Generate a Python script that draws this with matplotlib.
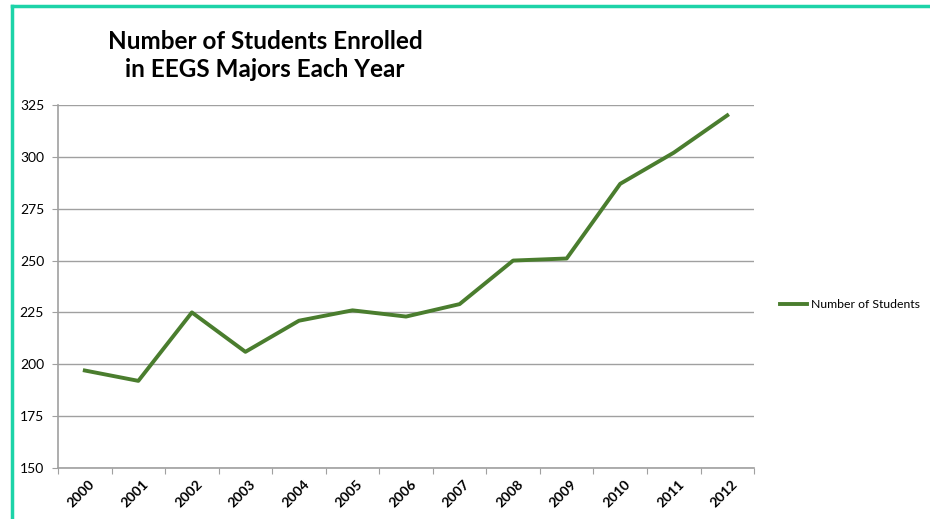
import matplotlib
matplotlib.use("Agg")
import matplotlib.pyplot as plt
from matplotlib.lines import Line2D

years = ['2000', '2001', '2002', '2003', '2004', '2005', '2006',
         '2007', '2008', '2009', '2010', '2011', '2012']
students = [197, 192, 225, 206, 221, 226, 223, 229, 250, 251, 287, 302, 320]

plt.rcParams['font.family'] = ['Lato', 'DejaVu Sans']

fig = plt.figure(figsize=(9.3, 5.19), dpi=100)
ax = fig.add_axes([0.0624, 0.0983, 0.7484, 0.6994])

x = list(range(len(years)))
ax.plot(x, students, color='#4a7d2e', linewidth=2.8, label='Number of Students')

ax.set_xlim(-0.5, len(years) - 0.5)
ax.set_ylim(150, 325)
ax.set_yticks(range(150, 326, 25))
ax.tick_params(axis='y', labelsize=10, length=4, color='#a0a0a0', pad=6)

# category ticks sit on the boundaries, labels in the middle
ax.set_xticks([i - 0.5 for i in range(len(years) + 1)])
ax.set_xticklabels([])
ax.set_xticks(x, minor=True)
ax.set_xticklabels(years, minor=True, rotation=45, fontsize=10,
                   fontweight='bold', ha='right', va='top', rotation_mode='anchor')
ax.tick_params(axis='x', which='major', length=4, color='#a0a0a0')
ax.tick_params(axis='x', which='minor', length=0, pad=7)
for lbl in ax.get_xticklabels(minor=True):
    lbl.set_transform(lbl.get_transform() + matplotlib.transforms.ScaledTranslation(0.04, 0, fig.dpi_scale_trans))

ax.grid(axis='y', color='#a0a0a0', linewidth=1)
ax.set_axisbelow(True)
for s in ['top', 'right']:
    ax.spines[s].set_visible(False)
for s in ['left', 'bottom']:
    ax.spines[s].set_color('#a0a0a0')
    ax.spines[s].set_linewidth(1.2)

ax.legend(loc='center left', bbox_to_anchor=(1.022, 0.45), frameon=False,
          fontsize=8.8, handlelength=2.2, handletextpad=0.3)

fig.text(0.285, 0.893, 'Number of Students Enrolled\nin EEGS Majors Each Year',
         ha='center', va='center', fontsize=17.5, fontweight='bold', linespacing=1.25)

# teal frame at top and left
fig.add_artist(Line2D([12 / 930, 1], [1 - 6 / 519, 1 - 6 / 519], transform=fig.transFigure,
                      color='#1dd3a8', linewidth=2.5))
fig.add_artist(Line2D([12 / 930, 12 / 930], [0, 1 - 6 / 519], transform=fig.transFigure,
                      color='#1dd3a8', linewidth=2.5))

fig.savefig('out.png', dpi=100)
